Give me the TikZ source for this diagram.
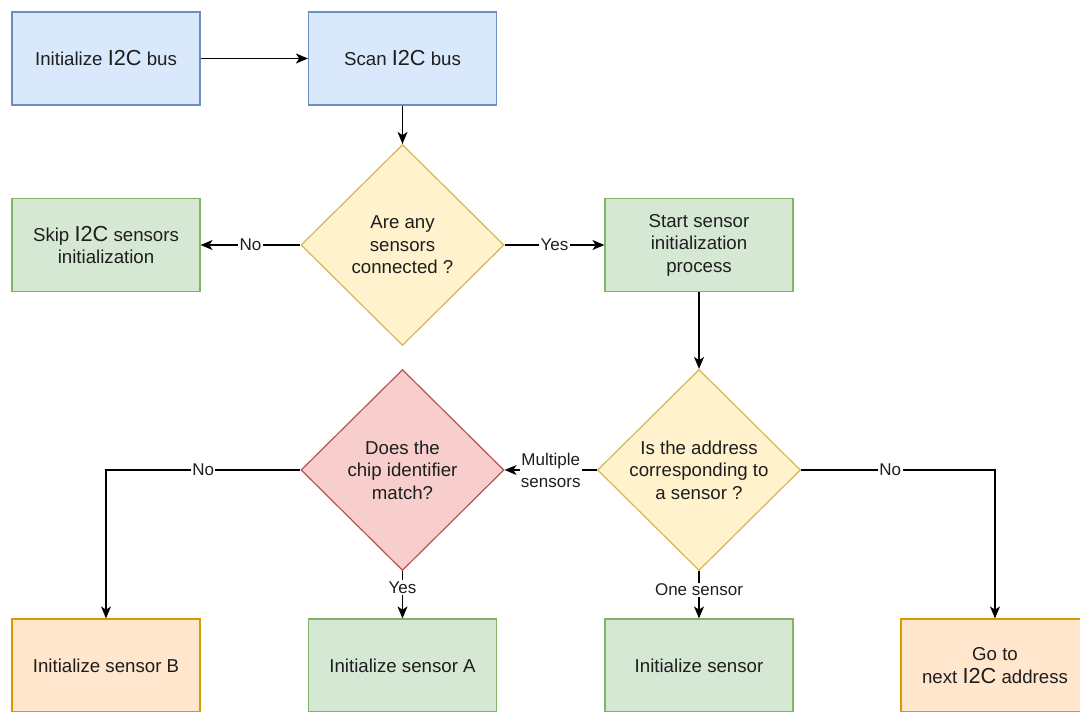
\documentclass[tikz,border=0pt]{standalone}
\usepackage{fontspec}
\setmainfont{Liberation Sans}
\usetikzlibrary{arrows.meta,shapes.geometric}
\definecolor{figline}{RGB}{0,0,0}
\definecolor{figtext}{RGB}{30,30,30}
\definecolor{blufill}{HTML}{DAE8FC}
\definecolor{bluline}{HTML}{6C8EBF}
\definecolor{grnfill}{HTML}{D5E8D4}
\definecolor{grnline}{HTML}{82B366}
\definecolor{ylwfill}{HTML}{FFF2CC}
\definecolor{ylwline}{HTML}{D6B656}
\definecolor{redfill}{HTML}{F8CECC}
\definecolor{redline}{HTML}{B85450}
\definecolor{orgfill}{HTML}{FFE6CC}
\definecolor{orgline}{HTML}{D79B00}
\newcommand{\iic}{{\fontsize{16.3}{16.9}\selectfont I2C}}
\tikzset{
  blk/.style  ={rectangle, line width=0.9pt, minimum width=141pt, minimum height=69.75pt,
                align=center, text=figtext, font=\fontsize{14}{16.9}\selectfont},
  dec/.style  ={diamond, aspect=1, line width=0.9pt, minimum width=152.25pt, minimum height=150.75pt,
                inner sep=0pt, align=center, text=figtext, font=\fontsize{14}{16.9}\selectfont},
  lab/.style  ={fill=white, inner sep=1pt, text=figtext, font=\fontsize{12.75}{14}\selectfont},
  labs/.style ={fill=white, inner sep=1pt, text=figtext, align=center, font=\fontsize{12.75}{16.5}\selectfont},
  ptr/.style  ={draw=figline, line width=1.1pt, -{Stealth[length=9pt,width=7.5pt,inset=2.5pt]}},
}

\begin{document}
\begin{tikzpicture}[x=0.75pt,y=-0.75pt]
  \useasboundingbox (0,0) rectangle (1080,711);
  \fill[white] (0,0) rectangle (1080,711);
  \clip (0,0) rectangle (1080,711);
  % top row
  \node[blk,fill=blufill,draw=bluline] (init) at (106,58.5) {Initialize \iic{} bus};
  \node[blk,fill=blufill,draw=bluline] (scan) at (402.5,58.5) {Scan \iic{} bus};
  % first question
  \node[dec,fill=ylwfill,draw=ylwline] (anyq) at (402.5,245) {Are any\\sensors\\connected ?};
  \node[blk,fill=grnfill,draw=grnline] (skip) at (106,245) {Skip \iic{} sensors\\initialization};
  \node[blk,fill=grnfill,draw=grnline] (start) at (699,245) {Start sensor\\initialization\\process};
  % second row of questions
  \node[dec,fill=ylwfill,draw=ylwline] (addrq) at (699,470) {Is the address\\corresponding to\\a sensor ?};
  \node[dec,fill=redfill,draw=redline] (chipq) at (402.5,470) {Does the\\chip identifier\\match?};
  % bottom row
  \node[blk,fill=orgfill,draw=orgline] (sensb) at (106,665.5) {Initialize sensor B};
  \node[blk,fill=grnfill,draw=grnline] (sensa) at (402.5,665.5) {Initialize sensor A};
  \node[blk,fill=grnfill,draw=grnline] (sens) at (699,665.5) {Initialize sensor};
  \node[blk,fill=orgfill,draw=orgline] (next) at (995,665.5) {Go to\\next \iic{} address};
  % connectors
  \draw[ptr] (init) -- (scan);
  \draw[ptr] (scan) -- (anyq);
  \draw[ptr] (anyq) -- node[lab] {No} (skip);
  \draw[ptr] (anyq) -- node[lab] {Yes} (start);
  \draw[ptr] (start) -- (addrq);
  \draw[ptr] (addrq) -- node[labs] {Multiple\\sensors} (chipq);
  \draw[ptr] (addrq) -- node[lab,pos=0.4] {One sensor} (sens);
  \draw[ptr] (addrq.east) -| node[lab,pos=0.23] {No} (next);
  \draw[ptr] (chipq.west) -| node[lab,pos=0.25] {No} (sensb);
  \draw[ptr] (chipq) -- node[lab,pos=0.35] {Yes} (sensa);
\end{tikzpicture}
\end{document}
